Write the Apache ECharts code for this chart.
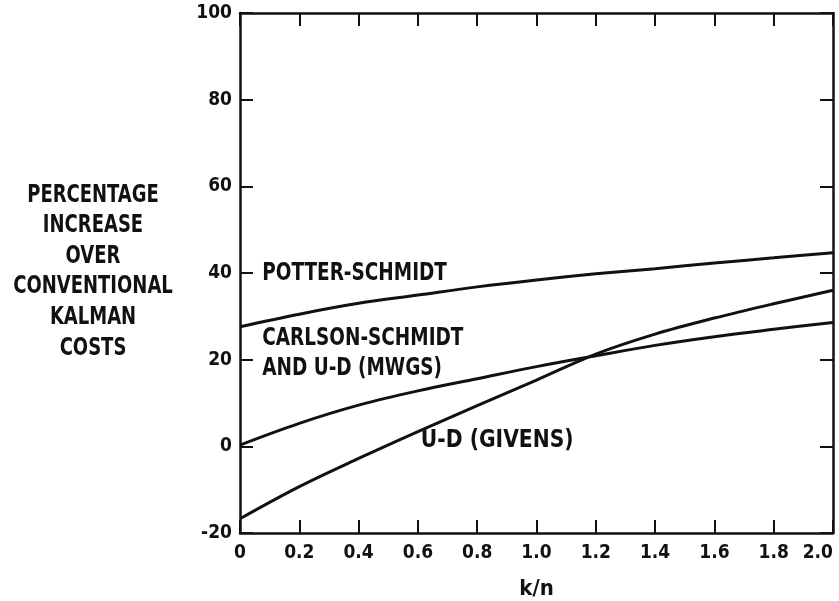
<!DOCTYPE html>
<html>
<head>
<meta charset="utf-8">
<script src="https://cdn.jsdelivr.net/npm/echarts@6/dist/echarts.min.js"></script>
<style>
html,body{margin:0;padding:0;background:#fff;}
#c{width:839px;height:601px;}
</style>
</head>
<body>
<div id="c"></div>
<script>
// ---- data ----
const kn = [0, 0.2, 0.4, 0.6, 0.8, 1.0, 1.2, 1.4, 1.6, 1.8, 2.0];
const potterSchmidt = [27.6, 30.5, 33.0, 34.9, 36.8, 38.4, 39.8, 41.0, 42.3, 43.5, 44.7];
const carlsonSchmidt = [0.3, 5.3, 9.5, 12.8, 15.6, 18.4, 20.9, 23.3, 25.3, 27.0, 28.6];
const udGivens = [-16.7, -9.3, -2.8, 3.4, 9.4, 15.3, 21.3, 25.9, 29.6, 32.9, 36.0];
const yTicks = [-20, 0, 20, 40, 60, 80, 100];
const xTicks = [0, 0.2, 0.4, 0.6, 0.8, 1.0, 1.2, 1.4, 1.6, 1.8, 2.0];
const yTitleLines = ['PERCENTAGE', 'INCREASE', 'OVER', 'CONVENTIONAL', 'KALMAN', 'COSTS'];
const xTitle = 'k/n';
const curveLabels = [
  {text: 'POTTER-SCHMIDT', at: [0.075, 39.8], sx: 1},
  {text: 'CARLSON-SCHMIDT', at: [0.075, 24.9], sx: 1},
  {text: 'AND U-D (MWGS)', at: [0.075, 18.0], sx: 1},
  {text: 'U-D (GIVENS)', at: [0.61, 1.4], sx: 1.1}
];

const FONT = '"DejaVu Sans Condensed","Liberation Sans Narrow","Liberation Sans",sans-serif';
const INK = '#111';

function zip(xs, ys){ return xs.map((x,i)=>[x, ys[i]]); }

const chart = echarts.init(document.getElementById('c'), null, {renderer:'canvas'});

const axisLine = {show:true, onZero:false, lineStyle:{color:INK, width:2.5}};
const tickIn = {show:true, inside:true, length:13, lineStyle:{color:INK, width:2}};
const lblStyle = {color:INK, fontFamily:FONT, fontWeight:'bold', fontSize:19};

const xMin = xTicks[0], xMax = xTicks[xTicks.length-1];
const yMin = yTicks[0], yMax = yTicks[yTicks.length-1];

const series = [
  {name:'POTTER-SCHMIDT', data: zip(kn, potterSchmidt)},
  {name:'CARLSON-SCHMIDT AND U-D (MWGS)', data: zip(kn, carlsonSchmidt)},
  {name:'U-D (GIVENS)', data: zip(kn, udGivens)}
].map(s => ({
  type:'line', name:s.name, data:s.data, smooth:0.35, showSymbol:false,
  lineStyle:{color:INK, width:3}, silent:true, z:3
}));

chart.setOption({
  animation:false,
  backgroundColor:'#fff',
  grid:{left:240, right:6, top:13, bottom:68, containLabel:false, outerBoundsMode:'none'},
  xAxis:[
    {type:'value', min:xMin, max:xMax, interval:0.2, position:'bottom',
     axisLine:axisLine, axisTick:tickIn, splitLine:{show:false},
     axisLabel:Object.assign({}, lblStyle, {margin:11, alignMaxLabel:'right',
       formatter:v => (Math.abs(v) < 1e-9 ? '0' : v.toFixed(1))}),
     name:xTitle, nameLocation:'middle', nameGap:45,
     nameTextStyle:{color:INK, fontFamily:FONT, fontWeight:'bold', fontSize:22}},
    {type:'value', min:xMin, max:xMax, interval:0.2, position:'top',
     axisLine:axisLine, axisTick:tickIn, axisLabel:{show:false}, splitLine:{show:false}}
  ],
  yAxis:[
    {type:'value', min:yMin, max:yMax, interval:20, position:'left',
     axisLine:axisLine, axisTick:tickIn, splitLine:{show:false},
     axisLabel:Object.assign({}, lblStyle, {margin:8})},
    {type:'value', min:yMin, max:yMax, interval:20, position:'right',
     axisLine:axisLine, axisTick:tickIn, axisLabel:{show:false}, splitLine:{show:false}}
  ],
  series:series
});

const graphics = [];
yTitleLines.forEach((t, i) => {
  graphics.push({type:'text', x:93, y:195 + i*30.6, scaleY:1.25, silent:true,
    style:{text:t, fill:INK, font:'bold 20px ' + FONT, textAlign:'center', textVerticalAlign:'middle'}});
});
curveLabels.forEach(l => {
  const p = chart.convertToPixel({xAxisIndex:0, yAxisIndex:0}, l.at);
  graphics.push({type:'text', x:p[0], y:p[1], scaleX:l.sx, scaleY:1.2, silent:true, z:10,
    style:{text:l.text, fill:INK, font:'bold 20.5px ' + FONT, textAlign:'left', textVerticalAlign:'middle'}});
});
chart.setOption({graphic:graphics});
</script>
</body>
</html>
